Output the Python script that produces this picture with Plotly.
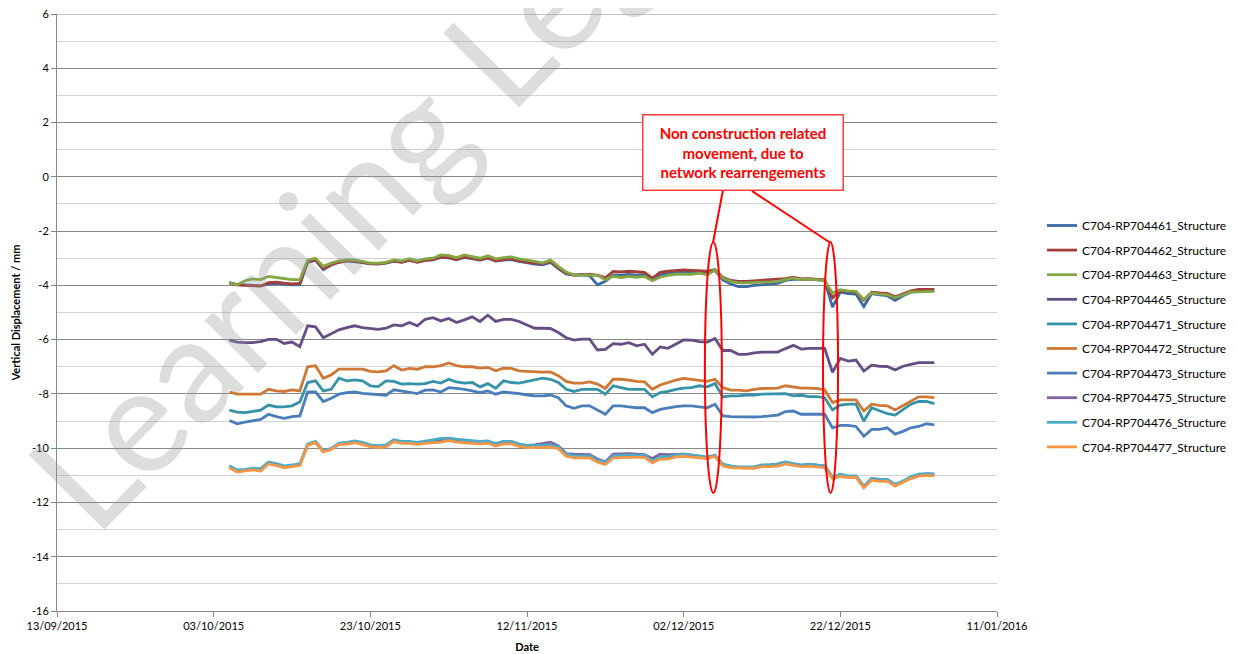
import pandas as pd
import plotly.graph_objects as go

# ---------------- data ----------------
dates = pd.date_range("2015-10-05", "2016-01-03", freq="D")

series_names = [
    "C704-RP704461_Structure", "C704-RP704462_Structure", "C704-RP704463_Structure",
    "C704-RP704465_Structure", "C704-RP704471_Structure", "C704-RP704472_Structure",
    "C704-RP704473_Structure", "C704-RP704475_Structure", "C704-RP704476_Structure",
    "C704-RP704477_Structure",
]

rp461 = [-3.90,-3.97,-3.98,-4.00,-4.02,-3.95,-3.93,-3.95,-3.98,-3.97,
         -3.15,-3.08,-3.42,-3.25,-3.14,-3.10,-3.12,-3.16,-3.21,-3.22,
         -3.18,-3.11,-3.14,-3.08,-3.14,-3.07,-3.06,-2.97,-2.99,-3.06,
         -2.97,-3.02,-3.07,-3.00,-3.10,-3.07,-3.05,-3.12,-3.17,-3.22,
         -3.24,-3.15,-3.38,-3.58,-3.62,-3.60,-3.65,-3.98,-3.85,-3.62,
         -3.62,-3.60,-3.62,-3.60,-3.78,-3.62,-3.55,-3.50,-3.52,-3.52,
         -3.50,-3.55,-3.45,-3.80,-3.95,-4.05,-4.05,-4.00,-3.98,-3.96,
         -3.93,-3.82,-3.78,-3.78,-3.77,-3.80,-3.82,-4.80,-4.25,-4.30,
         -4.32,-4.78,-4.30,-4.35,-4.38,-4.55,-4.38,-4.25,-4.22,-4.20,-4.20]

rp462 = [-3.91,-3.98,-4.00,-4.02,-4.03,-3.90,-3.88,-3.92,-3.95,-3.93,
         -3.12,-3.06,-3.38,-3.25,-3.15,-3.10,-3.10,-3.15,-3.20,-3.20,
         -3.17,-3.10,-3.15,-3.06,-3.15,-3.08,-3.05,-2.95,-2.98,-3.05,
         -2.95,-3.00,-3.06,-2.98,-3.10,-3.05,-3.02,-3.10,-3.15,-3.18,
         -3.20,-3.12,-3.35,-3.55,-3.62,-3.60,-3.60,-3.62,-3.72,-3.49,
         -3.50,-3.48,-3.50,-3.52,-3.73,-3.52,-3.48,-3.45,-3.43,-3.45,
         -3.46,-3.48,-3.42,-3.70,-3.82,-3.85,-3.85,-3.83,-3.82,-3.80,
         -3.78,-3.75,-3.70,-3.76,-3.75,-3.78,-3.80,-4.46,-4.20,-4.22,
         -4.25,-4.55,-4.25,-4.28,-4.30,-4.42,-4.30,-4.20,-4.15,-4.15,-4.15]

rp463 = [-3.91,-3.98,-3.83,-3.76,-3.79,-3.67,-3.71,-3.76,-3.79,-3.79,
         -3.06,-3.00,-3.30,-3.18,-3.10,-3.06,-3.06,-3.12,-3.18,-3.18,
         -3.15,-3.06,-3.10,-3.02,-3.10,-3.02,-3.00,-2.88,-2.90,-2.98,
         -2.88,-2.94,-3.00,-2.91,-3.02,-2.98,-2.95,-3.02,-3.06,-3.12,
         -3.18,-3.06,-3.30,-3.51,-3.61,-3.61,-3.63,-3.63,-3.79,-3.67,
         -3.71,-3.67,-3.70,-3.67,-3.83,-3.70,-3.63,-3.59,-3.59,-3.59,
         -3.55,-3.61,-3.43,-3.73,-3.85,-3.91,-3.91,-3.89,-3.88,-3.88,
         -3.85,-3.79,-3.73,-3.79,-3.77,-3.79,-3.83,-4.28,-4.16,-4.20,
         -4.22,-4.52,-4.28,-4.32,-4.34,-4.46,-4.34,-4.24,-4.24,-4.22,-4.22]

rp465 = [-6.02,-6.09,-6.11,-6.11,-6.07,-5.99,-5.99,-6.14,-6.09,-6.26,
         -5.49,-5.53,-5.93,-5.80,-5.64,-5.56,-5.49,-5.56,-5.59,-5.62,
         -5.58,-5.46,-5.49,-5.37,-5.49,-5.25,-5.19,-5.31,-5.22,-5.37,
         -5.27,-5.16,-5.33,-5.10,-5.33,-5.25,-5.25,-5.33,-5.46,-5.58,
         -5.58,-5.59,-5.74,-5.93,-6.02,-5.98,-5.98,-6.38,-6.36,-6.15,
         -6.17,-6.11,-6.23,-6.17,-6.54,-6.27,-6.32,-6.15,-6.01,-6.02,
         -6.07,-6.09,-5.96,-6.40,-6.40,-6.54,-6.54,-6.49,-6.46,-6.46,
         -6.46,-6.33,-6.21,-6.35,-6.32,-6.32,-6.32,-7.20,-6.69,-6.79,
         -6.75,-7.16,-6.94,-6.98,-6.99,-7.12,-6.98,-6.91,-6.85,-6.85,-6.85]

rp471 = [-8.60,-8.67,-8.69,-8.65,-8.60,-8.41,-8.48,-8.48,-8.44,-8.30,
         -7.58,-7.52,-7.89,-7.83,-7.42,-7.52,-7.48,-7.52,-7.70,-7.73,
         -7.52,-7.54,-7.64,-7.62,-7.64,-7.62,-7.54,-7.60,-7.46,-7.56,
         -7.60,-7.58,-7.74,-7.62,-7.79,-7.52,-7.58,-7.60,-7.54,-7.48,
         -7.42,-7.46,-7.58,-7.83,-7.91,-7.83,-7.83,-7.83,-8.01,-7.70,
         -7.77,-7.83,-7.83,-7.83,-8.11,-7.95,-7.91,-7.83,-7.79,-7.77,
         -7.70,-7.74,-7.62,-8.11,-8.07,-8.07,-8.04,-8.04,-8.01,-8.01,
         -7.99,-7.99,-8.07,-8.05,-8.10,-8.10,-8.14,-8.59,-8.41,-8.38,
         -8.38,-9.00,-8.51,-8.63,-8.73,-8.78,-8.57,-8.38,-8.28,-8.28,-8.36]

rp472 = [-7.93,-8.01,-8.01,-8.01,-8.01,-7.83,-7.89,-7.91,-7.85,-7.89,
         -7.00,-6.96,-7.42,-7.30,-7.09,-7.09,-7.09,-7.09,-7.17,-7.19,
         -7.15,-6.96,-7.12,-7.06,-7.09,-7.00,-7.00,-6.96,-6.86,-6.96,
         -7.00,-7.00,-7.05,-7.02,-7.15,-7.05,-7.06,-7.15,-7.17,-7.19,
         -7.20,-7.19,-7.33,-7.54,-7.60,-7.60,-7.56,-7.64,-7.80,-7.46,
         -7.46,-7.49,-7.54,-7.56,-7.83,-7.67,-7.58,-7.49,-7.43,-7.46,
         -7.49,-7.54,-7.46,-7.77,-7.86,-7.86,-7.89,-7.83,-7.80,-7.80,
         -7.79,-7.70,-7.74,-7.79,-7.79,-7.80,-7.85,-8.32,-8.22,-8.22,
         -8.22,-8.63,-8.38,-8.42,-8.44,-8.59,-8.44,-8.26,-8.11,-8.11,-8.14]

rp473 = [-8.98,-9.10,-9.04,-8.98,-8.94,-8.75,-8.84,-8.90,-8.84,-8.81,
         -7.93,-7.93,-8.28,-8.16,-8.01,-7.95,-7.93,-7.98,-8.01,-8.04,
         -8.05,-7.85,-7.89,-7.93,-7.99,-7.86,-7.85,-7.93,-7.77,-7.80,
         -7.83,-7.89,-7.95,-7.89,-8.01,-7.93,-7.95,-7.99,-8.04,-8.07,
         -8.07,-8.04,-8.14,-8.44,-8.53,-8.44,-8.44,-8.60,-8.75,-8.44,
         -8.44,-8.48,-8.51,-8.51,-8.69,-8.57,-8.51,-8.47,-8.44,-8.44,
         -8.48,-8.51,-8.38,-8.81,-8.84,-8.85,-8.85,-8.85,-8.84,-8.81,
         -8.78,-8.65,-8.63,-8.75,-8.75,-8.75,-8.75,-9.25,-9.16,-9.16,
         -9.20,-9.56,-9.31,-9.31,-9.25,-9.48,-9.38,-9.25,-9.20,-9.10,-9.14]

rp475 = [-10.70,-10.85,-10.82,-10.78,-10.80,-10.55,-10.60,-10.69,-10.66,-10.61,
         -9.88,-9.78,-10.12,-10.03,-9.84,-9.82,-9.77,-9.83,-9.91,-9.94,
         -9.92,-9.72,-9.78,-9.78,-9.82,-9.77,-9.74,-9.70,-9.68,-9.72,
         -9.74,-9.76,-9.77,-9.76,-9.86,-9.76,-9.76,-9.86,-9.90,-9.88,
         -9.82,-9.78,-9.92,-10.20,-10.22,-10.22,-10.24,-10.40,-10.50,-10.22,
         -10.20,-10.20,-10.22,-10.24,-10.38,-10.22,-10.24,-10.22,-10.22,-10.26,
         -10.29,-10.34,-10.27,-10.62,-10.68,-10.71,-10.71,-10.70,-10.63,-10.62,
         -10.58,-10.52,-10.58,-10.63,-10.60,-10.63,-10.66,-11.08,-10.98,-11.04,
         -11.04,-11.42,-11.13,-11.17,-11.17,-11.35,-11.23,-11.07,-10.98,-10.95,-10.96]

rp476 = [-10.65,-10.80,-10.78,-10.74,-10.75,-10.51,-10.57,-10.65,-10.62,-10.57,
         -9.85,-9.75,-10.10,-10.01,-9.81,-9.79,-9.73,-9.79,-9.88,-9.91,
         -9.88,-9.69,-9.75,-9.75,-9.79,-9.73,-9.69,-9.64,-9.63,-9.67,
         -9.69,-9.73,-9.75,-9.73,-9.83,-9.75,-9.75,-9.85,-9.91,-9.91,
         -9.91,-9.89,-9.95,-10.22,-10.28,-10.28,-10.28,-10.44,-10.53,-10.28,
         -10.26,-10.26,-10.26,-10.26,-10.47,-10.32,-10.32,-10.25,-10.22,-10.26,
         -10.28,-10.32,-10.26,-10.59,-10.65,-10.69,-10.69,-10.69,-10.62,-10.62,
         -10.59,-10.51,-10.57,-10.62,-10.59,-10.62,-10.65,-11.06,-10.96,-11.02,
         -11.02,-11.40,-11.11,-11.15,-11.15,-11.33,-11.21,-11.05,-10.96,-10.94,-10.96]

rp477 = [-10.72,-10.88,-10.84,-10.80,-10.84,-10.58,-10.64,-10.72,-10.68,-10.64,
         -9.90,-9.80,-10.14,-10.05,-9.87,-9.85,-9.80,-9.86,-9.94,-9.97,
         -9.95,-9.76,-9.82,-9.82,-9.86,-9.82,-9.80,-9.78,-9.72,-9.78,
         -9.80,-9.82,-9.84,-9.82,-9.92,-9.84,-9.84,-9.93,-9.98,-9.98,
         -9.98,-9.96,-10.02,-10.30,-10.36,-10.36,-10.36,-10.52,-10.60,-10.36,
         -10.34,-10.34,-10.34,-10.34,-10.54,-10.40,-10.40,-10.32,-10.30,-10.33,
         -10.35,-10.38,-10.30,-10.66,-10.72,-10.74,-10.74,-10.74,-10.68,-10.68,
         -10.66,-10.58,-10.62,-10.68,-10.66,-10.68,-10.72,-11.12,-11.04,-11.08,
         -11.08,-11.46,-11.18,-11.22,-11.22,-11.40,-11.27,-11.12,-11.03,-11.00,-11.02]

series_values = [rp461, rp462, rp463, rp465, rp471, rp472, rp473, rp475, rp476, rp477]

x_tick_dates = ["2015-09-13", "2015-10-03", "2015-10-23", "2015-11-12",
                "2015-12-02", "2015-12-22", "2016-01-11"]
x_tick_labels = ["13/09/2015", "03/10/2015", "23/10/2015", "12/11/2015",
                 "02/12/2015", "22/12/2015", "11/01/2016"]
y_tick_vals = [-16, -14, -12, -10, -8, -6, -4, -2, 0, 2, 4, 6]
y_tick_labels = ["-16", "-14", "-12", "-10", "-8", "-6", "-4", "-2", "0", "2", "4", "6"]

note_text = "Non construction related<br>movement, due to<br>network rearrengements"

# ---------------- style ----------------
colors = ["#3C6AA1", "#A33E3B", "#84A745", "#654E83", "#3592A8",
          "#CD7835", "#4A7EBB", "#8064A2", "#4AACC6", "#F79646"]
FONT = "Lato"

OFF = 8  # page body margin in the browser
W, H = 1237 - OFF, 654 - OFF
L, R, T, B = 57 - OFF, 240, 14 - OFF, 43
PW, PH = W - L - R, H - T - B


def px(xp):  # page x pixel -> paper fraction
    return (xp - OFF - L) / PW


def py(yp):  # page y pixel -> paper fraction
    return 1 - (yp - OFF - T) / PH


fig = go.Figure()
for name, vals, col in zip(series_names, series_values, colors):
    fig.add_trace(go.Scatter(
        x=dates, y=vals, mode="lines", name=name, legendgroup=name,
        line=dict(color=col, width=2.8),
    ))

grid_major = "#888888"
grid_minor = "#D4D4D4"

fig.update_layout(
    width=W, height=H,
    margin=dict(l=L, r=R, t=T, b=B, autoexpand=False),
    paper_bgcolor="white", plot_bgcolor="white",
    font=dict(family=FONT, size=11, color="#000000"),
    showlegend=True,
    legend=dict(
        x=px(1042), xanchor="left", y=py(211), yanchor="top",
        font=dict(family=FONT, size=12, color="#000000"),
        tracegroupgap=5.6, traceorder="grouped", itemwidth=30,
        bgcolor="rgba(0,0,0,0)",
    ),
    xaxis=dict(
        type="date", range=["2015-09-13", "2016-01-11"], automargin=False,
        tickvals=x_tick_dates, ticktext=x_tick_labels,
        showgrid=False, showline=True, linecolor=grid_major, linewidth=1,
        ticks="outside", ticklen=5, tickcolor=grid_major,
        tickfont=dict(family=FONT, size=11), ticklabeloverflow="allow",
        title=dict(text="<b>Date</b>", font=dict(family=FONT, size=11), standoff=12),
        zeroline=False,
    ),
    yaxis=dict(
        range=[-16, 6], automargin=False,
        tickvals=y_tick_vals, ticktext=y_tick_labels,
        showgrid=True, gridcolor=grid_major, gridwidth=1,
        minor=dict(dtick=1, tick0=0, showgrid=True, gridcolor=grid_minor, gridwidth=1),
        showline=True, linecolor=grid_major, linewidth=1,
        ticks="outside", ticklen=5, tickcolor=grid_major,
        tickfont=dict(family=FONT, size=11), ticklabeloverflow="allow",
        title=dict(text="<b>Vertical Displacement / mm</b>", font=dict(family=FONT, size=11), standoff=9),
        zeroline=False,
    ),
)

# top gridline at y = 6 (plotly omits gridlines at the range ends)
fig.add_shape(type="line", xref="paper", yref="y", x0=0, x1=1, y0=6, y1=6,
              line=dict(color=grid_major, width=1), layer="below")

red = "#FF0000"
# ellipses marking events
fig.add_shape(type="circle", xref="x", yref="y",
              x0="2015-12-04 17:00", x1="2015-12-06 21:00", y0=-11.65, y1=-2.4,
              line=dict(color=red, width=2))
fig.add_shape(type="circle", xref="x", yref="y",
              x0="2015-12-19 19:00", x1="2015-12-21 17:00", y0=-11.65, y1=-2.4,
              line=dict(color=red, width=2))
# connector lines
fig.add_shape(type="line", xref="x", yref="y",
              x0="2015-12-07 00:00", y0=-0.52, x1="2015-12-05 18:00", y1=-2.42,
              line=dict(color=red, width=2))
fig.add_shape(type="line", xref="x", yref="y",
              x0="2015-12-10 17:00", y0=-0.52, x1="2015-12-20 16:00", y1=-2.42,
              line=dict(color=red, width=2))

# note box
fig.add_annotation(
    xref="paper", yref="paper", x=px(742.5), y=py(153),
    xanchor="center", yanchor="middle", showarrow=False,
    text="<b>" + note_text + "</b>", align="center",
    font=dict(family=FONT, size=15, color=red),
    bgcolor="white", bordercolor="#FF3B3B", borderwidth=1.5, borderpad=0,
    width=199, height=74,
)

# watermark
fig.add_annotation(
    xref="paper", yref="paper", x=px(418), y=py(129),
    xanchor="center", yanchor="middle", showarrow=False,
    text="Learning Legacy", textangle=-45.5,
    font=dict(family=FONT, size=148, color="rgba(150,150,150,0.32)"),
)

fig.write_html("out.html")
